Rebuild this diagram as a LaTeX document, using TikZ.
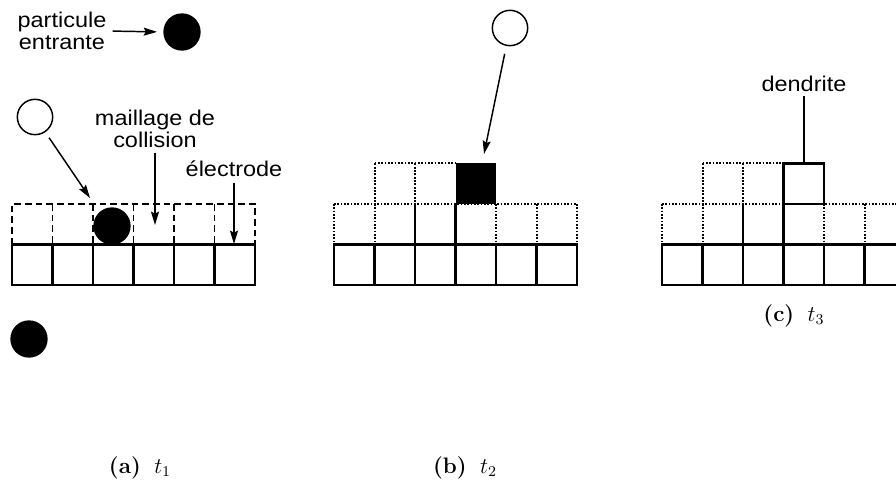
\documentclass[tikz,border=0pt]{standalone}
\usepackage{graphicx}
\usepackage{fontspec}
\newfontfamily\labfont{Liberation Sans}
\usetikzlibrary{arrows.meta}
\newcommand{\stretchlab}[1]{\scalebox{1.1}[1]{#1}}
\tikzset{
  >={Stealth[length=10pt,width=6pt,inset=1.5pt]},
  ball/.style={circle,fill,minimum size=28pt,inner sep=0pt},
  hole/.style={circle,draw,line width=1.1pt,minimum size=26.5pt,inner sep=0pt},
  lab/.style={font=\labfont\fontsize{16}{16.5}\selectfont,align=center,inner sep=1pt},
  captext/.style={font=\fontsize{12}{14}\selectfont,inner sep=0pt,scale=1.4},
  cell/.style={line width=1.6pt},
  ghost/.style={line width=1.3pt,dash pattern=on 5pt off 3pt},
  dotcell/.style={line width=1.5pt,dash pattern=on 1.3pt off 1.2pt},
  ptr/.style={->,line width=1.1pt},
}
\begin{document}
\begin{tikzpicture}[x=0.75pt,y=-0.75pt]
\useasboundingbox (0,0) rectangle (896,484);
\clip (0,0) rectangle (896,484);
% (a) t1
\foreach \i in {1,...,5} \draw[ghost] (12+40.5*\i,204) -- ++(0,40.5);
\draw[ghost] (12,244.5) |- (255,204) -- (255,244.5);
\foreach \i in {0,...,5} \draw[cell] (12+40.5*\i,244.5) rectangle ++(40.5,40.5);
\node[ball] (inA) at (182,32) {};
\node[lab] (entr) at (62,31) {\stretchlab{particule}\\\stretchlab{entrante}};
\draw[ptr,shorten <=3.5pt,shorten >=4.5pt] (entr.east) -- (inA.west);
\node[hole] (wa) at (35,117) {};
\coordinate (wtipA) at (90,198);
\draw[ptr,shorten <=5pt] (wa) -- (wtipA);
\node[ball] (ba) at (112,226) {};
\node[ball] (bl) at (29,339) {};
\node[lab] (mail) at (155,129) {\stretchlab{maillage de}\\\stretchlab{collision}};
\coordinate (mtip) at (155,225);
\draw[ptr,shorten <=2.5pt] (mail) -- (mtip);
\node[lab] (elec) at (234,169) {\stretchlab{électrode}};
\coordinate (etip) at (234,244);
\draw[ptr,shorten <=3pt] (elec) -- (etip);
% (b) t2 and (c) t3
\foreach \x in {334,662}{
  \draw[dotcell] (\x,204) -- ++(243,0) (\x+40.5,163.5) -- ++(81,0);
  \foreach \i in {0,...,6} \draw[dotcell] (\x+40.5*\i,204) -- ++(0,40.5);
  \foreach \i in {1,2} \draw[dotcell] (\x+40.5*\i,163.5) -- ++(0,40.5);
  \draw[cell] (\x+81,204) -- ++(0,40.5) (\x+121.5,204) -- ++(0,40.5);
  \foreach \i in {0,...,5} \draw[cell] (\x+40.5*\i,244.5) rectangle ++(40.5,40.5);
}
\fill (455.5,163.5) rectangle ++(40.5,40.5);
\node[hole] (wb) at (510,28) {};
\coordinate (wtipB) at (484,154);
\draw[ptr,shorten <=6pt] (wb) -- (wtipB);
\draw[cell] (783.5,163.5) rectangle ++(40.5,40.5);
\node[lab] (dend) at (804,84) {\stretchlab{dendrite}};
\coordinate (dtop) at (804,163.5);
\draw[cell,shorten <=2pt] (dend) -- (dtop);
% captions
\node[captext] (capA) at (140,468) {\textbf{(a)}\hspace{0.6em}$t_1$};
\node[captext] (capB) at (465,468) {\textbf{(b)}\hspace{0.6em}$t_2$};
\node[captext] (capC) at (794,315.5) {\textbf{(c)}\hspace{0.6em}$t_3$};
\end{tikzpicture}
\end{document}
